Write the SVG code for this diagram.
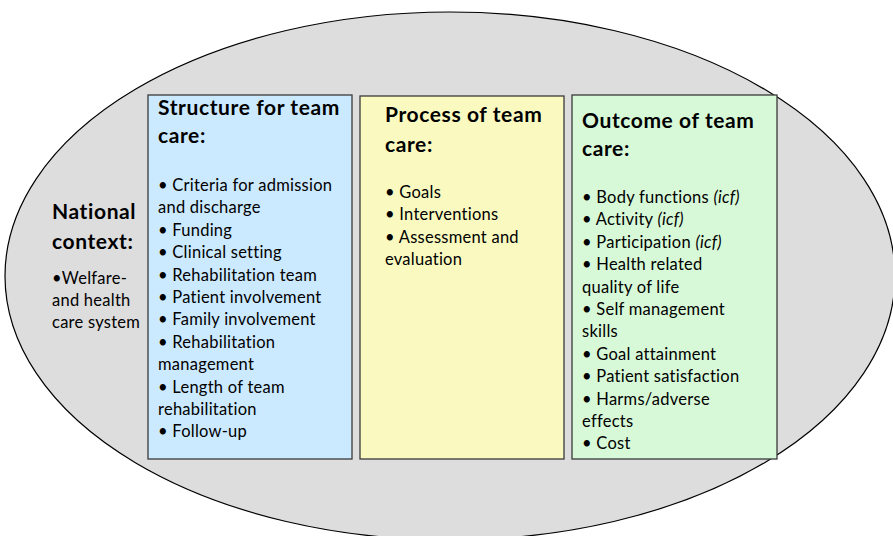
<svg xmlns="http://www.w3.org/2000/svg" width="893" height="536" viewBox="0 0 893 536">
<style>
.hd{font-family:Lato,"Open Sans","Liberation Sans",sans-serif;font-weight:bold;font-size:21px;letter-spacing:0.6px;fill:#000}
.tx{font-family:Lato,"Open Sans","Liberation Sans",sans-serif;font-size:16.5px;letter-spacing:0.25px;fill:#000}
.box{stroke:#3a3a3a;stroke-width:1.3}
.it{font-style:italic}
</style>
<rect width="893" height="536" fill="#fff"/>
<g id="national">
<ellipse cx="450" cy="276" rx="445" ry="264" fill="#dddddd" stroke="#000" stroke-width="1.2"/>
<text class="hd" x="52" y="219">National</text>
<text class="hd" x="52" y="249">context:</text>
<text class="tx" x="52" y="284">•Welfare-</text>
<text class="tx" x="52" y="306">and health</text>
<text class="tx" x="52" y="328">care system</text>
</g>
<g id="structure">
<rect class="box" x="148" y="95" width="204" height="364" fill="#cceaff"/>
<text class="hd" x="158" y="115">Structure for team</text>
<text class="hd" x="158" y="143">care:</text>
<text class="tx" x="158" y="191">• Criteria for admission</text>
<text class="tx" x="158" y="213.4">and discharge</text>
<text class="tx" x="158" y="235.8">• Funding</text>
<text class="tx" x="158" y="258.2">• Clinical setting</text>
<text class="tx" x="158" y="280.6">• Rehabilitation team</text>
<text class="tx" x="158" y="303">• Patient involvement</text>
<text class="tx" x="158" y="325.4">• Family involvement</text>
<text class="tx" x="158" y="347.8">• Rehabilitation</text>
<text class="tx" x="158" y="370.2">management</text>
<text class="tx" x="158" y="392.6">• Length of team</text>
<text class="tx" x="158" y="415">rehabilitation</text>
<text class="tx" x="158" y="437.4">• Follow-up</text>
</g>
<g id="process">
<rect class="box" x="360" y="96" width="204" height="363" fill="#fafac0"/>
<text class="hd" x="385" y="122">Process of team</text>
<text class="hd" x="385" y="152">care:</text>
<text class="tx" x="385" y="198">• Goals</text>
<text class="tx" x="385" y="220.4">• Interventions</text>
<text class="tx" x="385" y="242.8">• Assessment and</text>
<text class="tx" x="385" y="265.2">evaluation</text>
</g>
<g id="outcome">
<rect class="box" x="572" y="95" width="205" height="364" fill="#d8f9d8"/>
<text class="hd" x="582" y="128">Outcome of team</text>
<text class="hd" x="582" y="156">care:</text>
<text class="tx" x="582" y="203">• Body functions <tspan class="it">(icf)</tspan></text>
<text class="tx" x="582" y="225.4">• Activity <tspan class="it">(icf)</tspan></text>
<text class="tx" x="582" y="247.8">• Participation <tspan class="it">(icf)</tspan></text>
<text class="tx" x="582" y="270.2">• Health related</text>
<text class="tx" x="582" y="292.6">quality of life</text>
<text class="tx" x="582" y="315">• Self management</text>
<text class="tx" x="582" y="337.4">skills</text>
<text class="tx" x="582" y="359.8">• Goal attainment</text>
<text class="tx" x="582" y="382.2">• Patient satisfaction</text>
<text class="tx" x="582" y="404.6">• Harms/adverse</text>
<text class="tx" x="582" y="427">effects</text>
<text class="tx" x="582" y="449.4">• Cost</text>
</g>
<g id="connectors"></g>
</svg>
